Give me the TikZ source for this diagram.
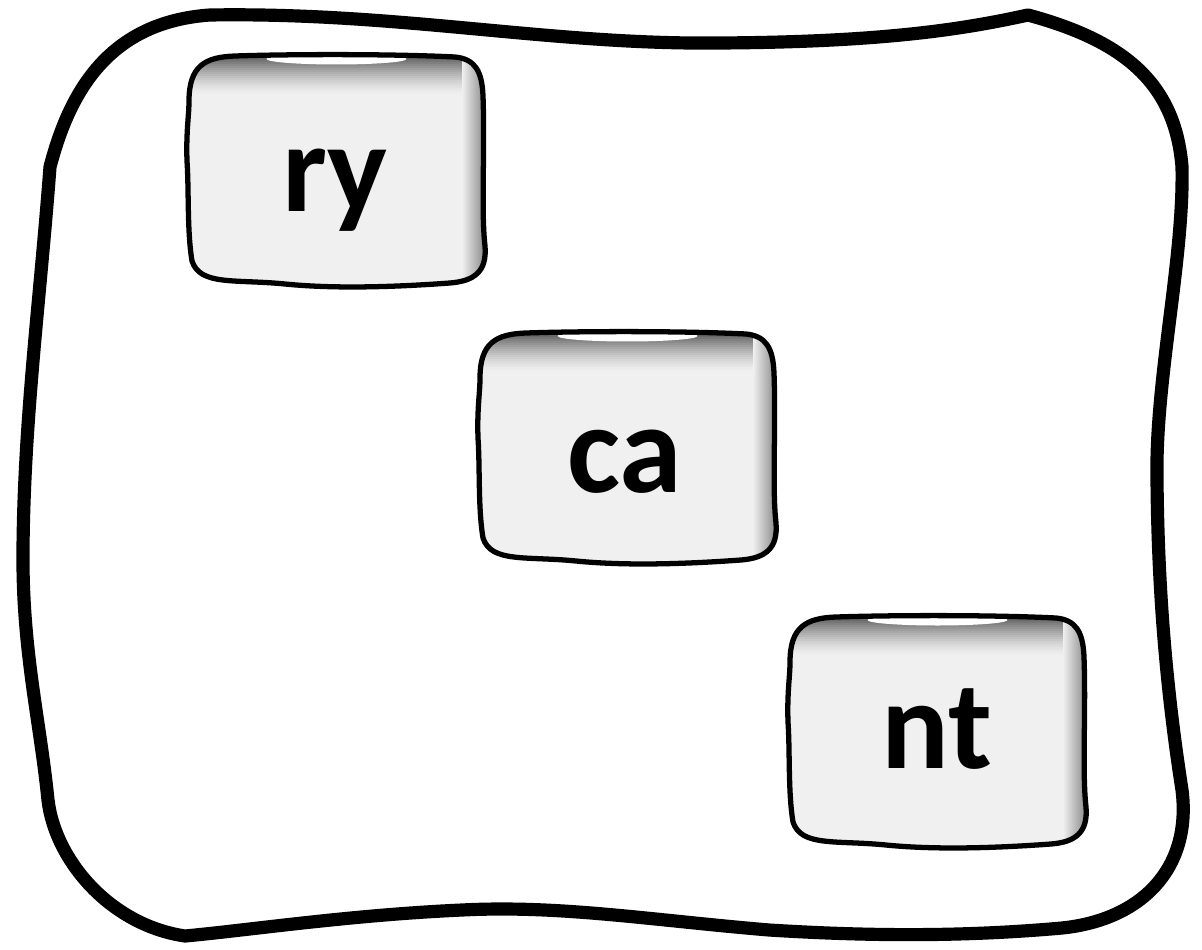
\documentclass[tikz,border=0pt]{standalone}
\usepackage{fontspec}
\setmainfont{Carlito}
\usetikzlibrary{positioning}
\definecolor{boxgray}{gray}{0.94}
\definecolor{rimgray}{gray}{0.5}

\tikzset{
  frame/.style={line width=7.5pt, line join=round},
  lbl/.style={font=\bfseries\fontsize{72}{80}\selectfont, inner sep=0pt, anchor=base},
  softbox/.pic={
    \path[draw=black, line width=3pt, line join=round, fill=boxgray,
      path picture={
        % rim shadow along the top, faded in strips
        \foreach \k in {0,...,19}{
          \pgfmathsetmacro\op{0.65*(1-\k/20)^1.5}
          \fill[black, opacity=\op]
            ([yshift=-\k*0.04cm]path picture bounding box.north west) rectangle
            ([yshift=-\k*0.04cm-0.041cm]path picture bounding box.north east);
        }
        \shade[left color=boxgray, right color=rimgray]
          ([xshift=-0.5cm]path picture bounding box.south east) rectangle (path picture bounding box.north east);
        \fill[white] ([yshift=-0.1cm]path picture bounding box.north) ellipse [x radius=1.4cm, y radius=0.11cm];
      }]
      (-146,-70) .. controls (-146,-105) and (-130,-114) .. (-100,-115)
      .. controls (-40,-117) and (60,-117) .. (120,-114)
      .. controls (140,-112) and (147,-100) .. (148,-75)
      .. controls (150,-20) and (146,40) .. (150,75)
      .. controls (152,100) and (140,110) .. (115,112)
      .. controls (60,116) and (0,118) .. (-50,113)
      .. controls (-100,108) and (-135,115) .. (-143,90)
      .. controls (-148,60) and (-146,20) .. (-148,-10)
      .. controls (-149,-40) and (-146,-55) .. cycle;
  }
}

\begin{document}
\begin{tikzpicture}[x=0.02cm, y=-0.02cm]
\useasboundingbox (0,0) rectangle (1202,949);

% outer frame
\draw[frame] (50,167) .. controls (70,90) and (110,22) .. (210,15)
  .. controls (400,12) and (550,45) .. (720,43)
  .. controls (880,42) and (960,30) .. (1028,15)
  .. controls (1120,40) and (1175,80) .. (1182,167)
  .. controls (1184,260) and (1155,380) .. (1157,480)
  .. controls (1158,600) and (1168,700) .. (1182,790)
  .. controls (1192,870) and (1140,920) .. (1062,928)
  .. controls (950,938) and (850,935) .. (769,930)
  .. controls (650,920) and (560,905) .. (462,910)
  .. controls (350,915) and (250,930) .. (185,936)
  .. controls (110,925) and (55,860) .. (48,800)
  .. controls (40,720) and (22,650) .. (23,550)
  .. controls (24,420) and (40,300) .. cycle;

% boxes
\pic at (335,171) {softbox};
\pic at (626,448) {softbox};
\pic at (936,732) {softbox};

\node[lbl] (ry) at (335,212) {ry};
\node[lbl] (ca) at (625,492) {ca};
\node[lbl] (nt) at (937,768) {nt};
\end{tikzpicture}
\end{document}
